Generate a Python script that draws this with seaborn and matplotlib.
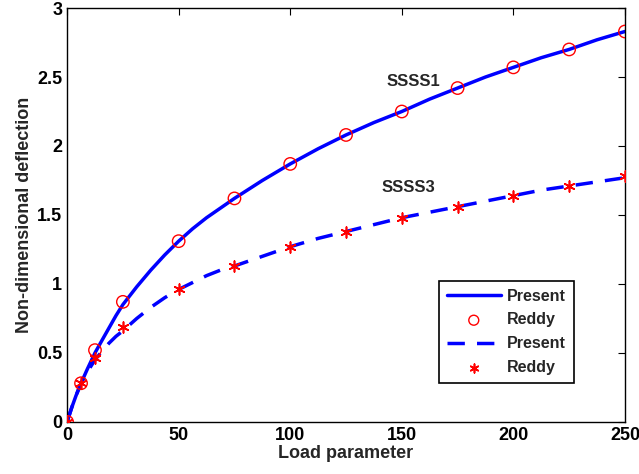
import numpy as np
import pandas as pd
import matplotlib
matplotlib.use('Agg')
import matplotlib.pyplot as plt
import seaborn as sns

# load values at which the present solution is drawn
load_line = [0, 2, 4, 6.25, 9, 12.5, 15.6, 18.75, 21.9, 25, 31.25, 37.5, 43.75,
             50, 56.25, 62.5, 68.75, 75, 87.5, 100, 112.5, 125, 137.5, 150,
             162.5, 175, 187.5, 200, 212.5, 225, 237.5, 250]
ssss1_present = [0, 0.10, 0.19, 0.28, 0.38, 0.50, 0.59, 0.68, 0.77, 0.85, 0.98,
                 1.10, 1.21, 1.31, 1.40, 1.48, 1.55, 1.62, 1.75, 1.87, 1.98,
                 2.08, 2.17, 2.25, 2.34, 2.42, 2.50, 2.57, 2.64, 2.70, 2.77, 2.83]
ssss3_present = [0, 0.10, 0.19, 0.28, 0.36, 0.45, 0.51, 0.57, 0.62, 0.66, 0.75,
                 0.83, 0.90, 0.96, 1.01, 1.06, 1.10, 1.13, 1.20, 1.27, 1.33,
                 1.38, 1.43, 1.48, 1.52, 1.56, 1.60, 1.64, 1.68, 1.71, 1.74, 1.77]

# Reddy reference points
load_pts = [0, 6.25, 12.5, 25, 50, 75, 100, 125, 150, 175, 200, 225, 250]
ssss1_reddy = [0, 0.28, 0.52, 0.87, 1.31, 1.62, 1.87, 2.08, 2.25, 2.42, 2.57, 2.70, 2.83]
ssss3_reddy = [0, 0.28, 0.46, 0.69, 0.96, 1.13, 1.27, 1.38, 1.48, 1.56, 1.64, 1.71, 1.78]

sns.set_style('white')
plt.rcParams['font.family'] = ['Liberation Sans', 'DejaVu Sans']
plt.rcParams['font.weight'] = 'bold'

fig = plt.figure(figsize=(6.39, 4.74), dpi=100)
ax = fig.add_axes([0.105, 0.11, 0.873, 0.873])

lines = pd.DataFrame({'load': load_line, 's1': ssss1_present, 's3': ssss3_present})
pts = pd.DataFrame({'load': load_pts, 's1': ssss1_reddy, 's3': ssss3_reddy})

sns.lineplot(data=lines, x='load', y='s1', ax=ax, color='#0000ff', lw=2.5,
             label='Present')
sns.scatterplot(data=pts, x='load', y='s1', ax=ax, marker='o', s=80,
                facecolor='none', edgecolor='#ff0000', linewidth=1.0,
                label='Reddy', zorder=5)
sns.lineplot(data=lines, x='load', y='s3', ax=ax, color='#0000ff', lw=2.5,
             label='Present')
ax.lines[-1].set_dashes([5, 3.5])
sns.scatterplot(data=pts, x='load', y='s3', ax=ax, marker=(6, 2, 0), s=60,
                color='#ff0000', edgecolor='#ff0000', linewidth=1.2,
                label='Reddy', zorder=5)

ax.text(155, 2.47, 'SSSS1', fontsize=12, fontweight='bold', ha='center', va='center')
ax.text(153, 1.70, 'SSSS3', fontsize=12, fontweight='bold', ha='center', va='center')

ax.set_xlim(0, 250)
ax.set_ylim(0, 3)
ax.set_xticks([0, 50, 100, 150, 200, 250])
ax.set_yticks([0, 0.5, 1, 1.5, 2, 2.5, 3])
ax.set_yticklabels(['0', '0.5', '1', '1.5', '2', '2.5', '3'])
ax.tick_params(direction='in', top=True, right=True, length=5, width=0.8,
               labelsize=13, colors='black')
for lab in ax.get_xticklabels() + ax.get_yticklabels():
    lab.set_fontweight('bold')
for sp in ax.spines.values():
    sp.set_color('black')
    sp.set_linewidth(1.0)

ax.set_xlabel('Load parameter', fontsize=13, fontweight='bold', labelpad=1)
ax.set_ylabel('Non-dimensional deflection', fontsize=13, fontweight='bold', labelpad=3)

leg = ax.legend(loc='lower right', bbox_to_anchor=(0.909, 0.094), borderaxespad=0,
                fancybox=False, framealpha=1, edgecolor='black',
                prop={'weight': 'bold', 'size': 11.5}, handlelength=3.4,
                labelspacing=0.55, handletextpad=0.4, markerscale=0.8,
                borderpad=0.5)
leg.get_frame().set_linewidth(1.2)

fig.savefig('out.png', dpi=100)
